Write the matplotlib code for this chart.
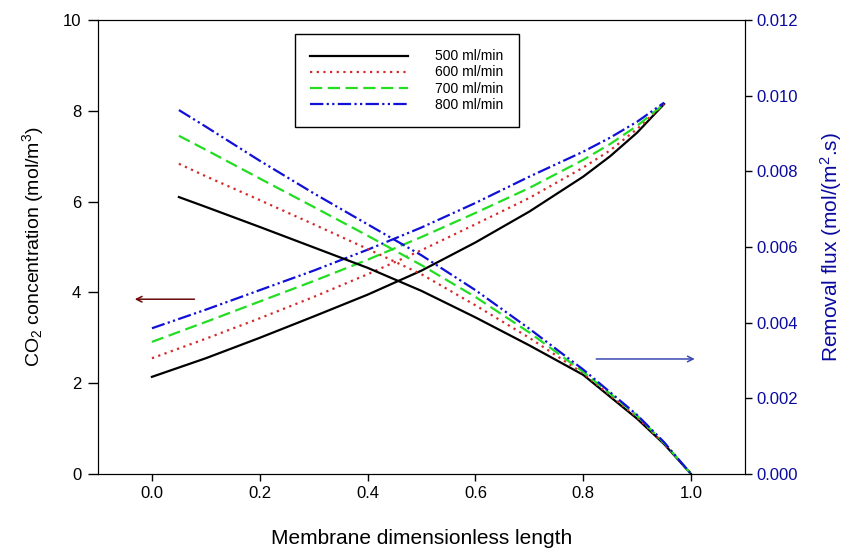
import matplotlib
matplotlib.use("Agg")
import matplotlib.pyplot as plt

plt.rcParams['font.family'] = ['Liberation Sans', 'DejaVu Sans']
plt.rcParams['mathtext.default'] = 'regular'

x_conc = [0.0, 0.1, 0.2, 0.3, 0.4, 0.5, 0.6, 0.7, 0.8, 0.85, 0.9, 0.95]
x_flux = [0.05, 0.1, 0.2, 0.3, 0.4, 0.5, 0.6, 0.7, 0.8, 0.9, 0.95, 1.0]

labels = ['500 ml/min', '600 ml/min', '700 ml/min', '800 ml/min']

# CO2 concentration (mol/m3), left axis
conc_500 = [2.14, 2.55, 3.00, 3.47, 3.95, 4.48, 5.10, 5.78, 6.55, 7.00, 7.52, 8.15]
conc_600 = [2.55, 2.98, 3.43, 3.90, 4.40, 4.93, 5.50, 6.08, 6.75, 7.13, 7.60, 8.15]
conc_700 = [2.91, 3.35, 3.80, 4.25, 4.72, 5.22, 5.75, 6.30, 6.92, 7.27, 7.67, 8.15]
conc_800 = [3.21, 3.62, 4.05, 4.48, 4.94, 5.43, 5.97, 6.55, 7.10, 7.41, 7.76, 8.18]

# removal flux (mol/(m2.s)), right axis
flux_500 = [0.00732, 0.00706, 0.00653, 0.00599, 0.00545, 0.00484, 0.00414, 0.00340, 0.00262, 0.00146, 0.00079, 0.0]
flux_600 = [0.00820, 0.00787, 0.00724, 0.00660, 0.00595, 0.00528, 0.00446, 0.00360, 0.00266, 0.00150, 0.00080, 0.0]
flux_700 = [0.00894, 0.00857, 0.00781, 0.00706, 0.00630, 0.00552, 0.00468, 0.00374, 0.00270, 0.00154, 0.00082, 0.0]
flux_800 = [0.00962, 0.00918, 0.00828, 0.00742, 0.00660, 0.00578, 0.00486, 0.00384, 0.00276, 0.00156, 0.00084, 0.0]

conc = [conc_500, conc_600, conc_700, conc_800]
flux = [flux_500, flux_600, flux_700, flux_800]

colors = ['black', '#d42a2a', '#22dd22', '#1010d8']
styles = ['-', (0, (1, 2)), (0, (5.5, 2.5)), (0, (6, 1.5, 1, 1.5, 1, 1.5))]

fig = plt.figure(figsize=(8.48, 5.5), dpi=100)
ax = fig.add_axes([0.1156, 0.1382, 0.7629, 0.8254])
ax2 = ax.twinx()

handles = []
for c, f, col, ls, lab in zip(conc, flux, colors, styles, labels):
    h, = ax.plot(x_conc, c, color=col, linestyle=ls, lw=1.6, label=lab)
    ax2.plot(x_flux, f, color=col, linestyle=ls, lw=1.6)
    handles.append(h)

ax.set_xlim(-0.1, 1.1)
ax.set_ylim(0, 10)
ax2.set_ylim(0, 0.012)
ax.set_xticks([0.0, 0.2, 0.4, 0.6, 0.8, 1.0])
ax.set_xticklabels(['0.0', '0.2', '0.4', '0.6', '0.8', '1.0'])
ax.set_yticks([0, 2, 4, 6, 8, 10])
ax2.set_yticks([0, 0.002, 0.004, 0.006, 0.008, 0.010, 0.012])
ax2.set_yticklabels(['0.000', '0.002', '0.004', '0.006', '0.008', '0.010', '0.012'])

ax.tick_params(axis='x', direction='out', length=5, width=1, labelsize=12)
ax.tick_params(axis='y', direction='out', length=7, width=1, labelsize=12, pad=5)
ax2.tick_params(direction='out', length=5, width=1, labelsize=12, labelcolor='#0a0aa0')

ax.set_xlabel('Membrane dimensionless length', fontsize=15, labelpad=20)
ax.set_ylabel('CO$_2$ concentration (mol/m$^3$)', fontsize=14, labelpad=12)
ax2.set_ylabel('Removal flux (mol/(m$^2$.s)', fontsize=15, color='#0a0aa0', labelpad=14)

# arrows pointing to the axis each group belongs to
ax.annotate('', xy=(-0.037, 3.85), xytext=(0.084, 3.85),
            arrowprops=dict(arrowstyle='->', color='#6b0a0a', lw=1.1))
ax2.annotate('', xy=(1.012, 0.00304), xytext=(0.819, 0.00304),
             arrowprops=dict(arrowstyle='->', color='#3a48b0', lw=1.1))

leg = ax.legend(handles=handles, loc='upper left', bbox_to_anchor=(0.3045, 0.969),
                fontsize=10, handlelength=7, handletextpad=2, labelspacing=0.15,
                borderpad=1.1, borderaxespad=0, fancybox=False, framealpha=1,
                edgecolor='black')
leg.get_frame().set_linewidth(1.0)

plt.savefig('out.png', dpi=100)
